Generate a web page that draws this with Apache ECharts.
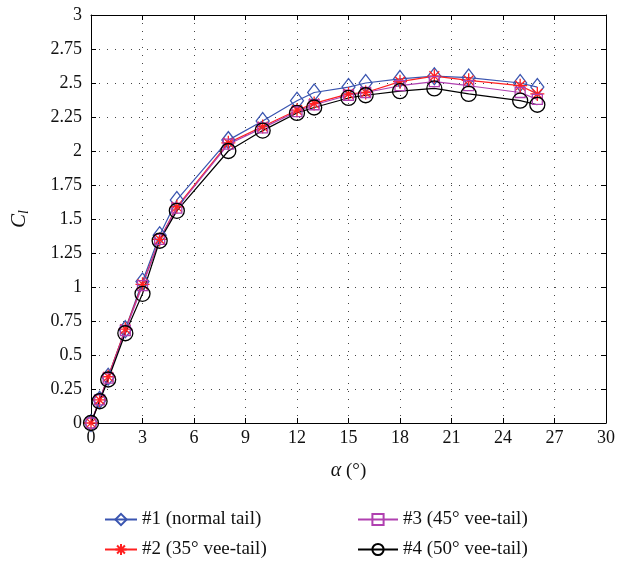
<!DOCTYPE html>
<html>
<head>
<meta charset="utf-8">
<script src="https://cdn.jsdelivr.net/npm/echarts@6/dist/echarts.min.js"></script>
<style>
  html, body { margin: 0; padding: 0; background: #fff; }
  #main { width: 621px; height: 565px; }
</style>
</head>
<body>
<div id="main"></div>
<script>
// angle of attack (deg)
var alpha = [0, 0.5, 1, 2, 3, 4, 5, 8, 10, 12, 13, 15, 16, 18, 20, 22, 25, 26];
// lift coefficient for each tail
var clNormal = [0, 0.17, 0.34, 0.69, 1.04, 1.38, 1.64, 2.08, 2.22, 2.37, 2.43, 2.47, 2.50, 2.53, 2.55, 2.54, 2.50, 2.47];
var clVee35 = [0, 0.17, 0.34, 0.69, 1.02, 1.35, 1.59, 2.06, 2.18, 2.30, 2.35, 2.42, 2.43, 2.51, 2.55, 2.52, 2.48, 2.42];
var clVee45 = [0, 0.17, 0.33, 0.68, 1.01, 1.35, 1.58, 2.05, 2.17, 2.29, 2.34, 2.41, 2.43, 2.48, 2.51, 2.48, 2.43, 2.38];
var clVee50 = [0, 0.16, 0.32, 0.66, 0.95, 1.34, 1.56, 2.00, 2.15, 2.28, 2.32, 2.39, 2.41, 2.44, 2.46, 2.42, 2.37, 2.34];
var names = ['#1 (normal tail)', '#2 (35° vee-tail)', '#3 (45° vee-tail)', '#4 (50° vee-tail)'];

var serif = '"Liberation Serif", "DejaVu Serif", serif';
var star = 'path://M0,5L10,5M5,0L5,10M1.5,1.5L8.5,8.5M1.5,8.5L8.5,1.5';

function pairs(ys) {
  return alpha.map(function (a, i) { return [a, ys[i]]; });
}

function mkSeries(name, ys, color, symbol, size) {
  return {
    name: name,
    type: 'line',
    data: pairs(ys),
    symbol: symbol,
    symbolSize: size,
    showAllSymbol: true,
    lineStyle: { color: color, width: 1.2 },
    itemStyle: { color: 'rgba(255,255,255,0)', borderColor: color, borderWidth: 1.3 },
    emphasis: { disabled: true },
    animation: false
  };
}

var myChart = echarts.init(document.getElementById('main'));

var tickStyle = { inside: true, length: 5, lineStyle: { color: '#000' } };
var axisLine = { show: true, onZero: false, lineStyle: { color: '#000', width: 1 } };
var split = { show: true, lineStyle: { color: '#444', type: [1, 7], width: 1 } };
var legendText = { fontFamily: serif, fontSize: 19, color: '#111' };

myChart.setOption({
  backgroundColor: '#fff',
  textStyle: { fontFamily: serif },
  grid: { left: 91, right: 15, top: 15, bottom: 142 },
  legend: [{
    left: 99, top: 505, orient: 'vertical', itemGap: 11,
    itemWidth: 32, itemHeight: 14,
    data: [names[0], names[1]],
    textStyle: legendText
  }, {
    left: 352, top: 505, orient: 'vertical', itemGap: 11,
    itemWidth: 40, itemHeight: 14,
    data: [names[2], names[3]],
    textStyle: legendText
  }],
  xAxis: [{
    type: 'value', min: 0, max: 30, interval: 3,
    axisLine: axisLine, axisTick: tickStyle, splitLine: split,
    axisLabel: { fontFamily: serif, fontSize: 18, color: '#111', margin: 6 },
    name: '{a|α} (°)', nameLocation: 'middle', nameGap: 38,
    nameTextStyle: { fontFamily: serif, fontSize: 19, color: '#111',
      rich: { a: { fontFamily: serif, fontStyle: 'italic', fontSize: 20, color: '#111' } } }
  }, {
    type: 'value', min: 0, max: 30, interval: 3, position: 'top',
    axisLine: axisLine, axisTick: tickStyle, axisLabel: { show: false }, splitLine: { show: false }
  }],
  yAxis: [{
    type: 'value', min: 0, max: 3, interval: 0.25,
    axisLine: axisLine, axisTick: tickStyle, splitLine: split,
    axisLabel: { fontFamily: serif, fontSize: 18, color: '#111', margin: 9 },
    name: '{c|C}{s|l}', nameLocation: 'middle', nameGap: 60, nameRotate: 90,
    nameTextStyle: { rich: {
      c: { fontFamily: serif, fontStyle: 'italic', fontSize: 21, color: '#111' },
      s: { fontFamily: serif, fontStyle: 'italic', fontSize: 14, color: '#111', verticalAlign: 'bottom', padding: [9, 0, 0, 0] }
    } }
  }, {
    type: 'value', min: 0, max: 3, interval: 0.25, position: 'right',
    axisLine: axisLine, axisTick: tickStyle, axisLabel: { show: false }, splitLine: { show: false }
  }],
  series: [
    mkSeries(names[0], clNormal, '#3a55b0', 'diamond', [13, 17]),
    mkSeries(names[1], clVee35, '#ff2020', star, 14),
    mkSeries(names[2], clVee45, '#b040b0', 'rect', 10),
    mkSeries(names[3], clVee50, '#000000', 'circle', 15)
  ]
});
</script>
</body>
</html>
